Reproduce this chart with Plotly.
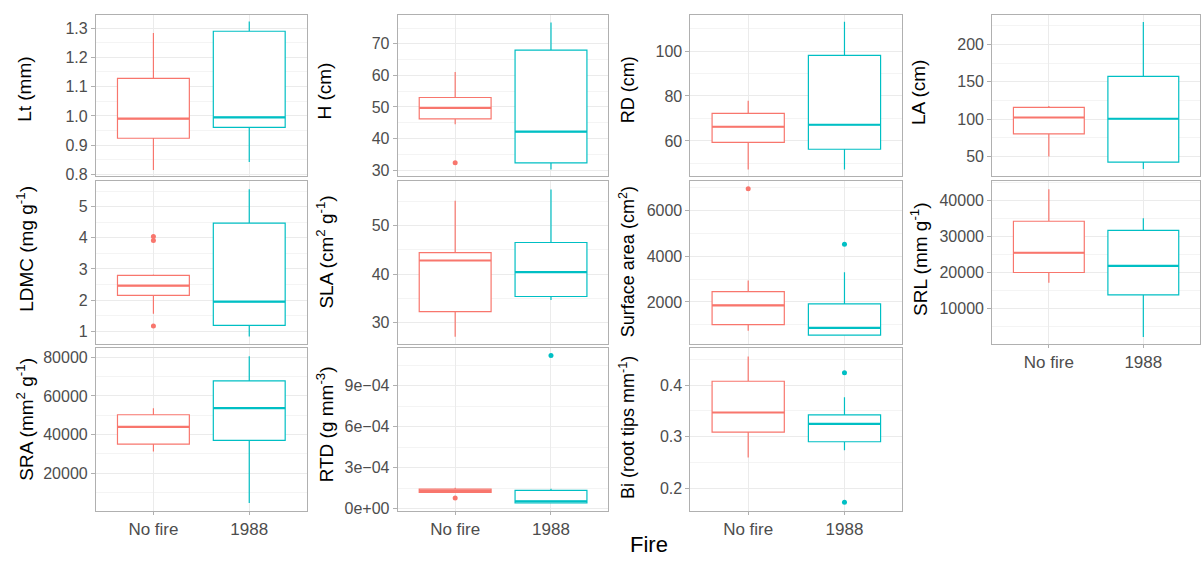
import plotly.graph_objects as go

# ---------------- data ----------------
groups = ["No fire", "1988"]
colors = ["#F8766D", "#00BFC4"]

panel_titles = [
    "Lt (mm)", "H (cm)", "RD (cm)", "LA (cm)",
    "LDMC (mg g<sup>-1</sup>)", "SLA (cm<sup>2</sup> g<sup>-1</sup>)",
    "Surface area (cm<sup>2</sup>)", "SRL (mm g<sup>-1</sup>)",
    "SRA (mm<sup>2</sup> g<sup>-1</sup>)", "RTD (g mm<sup>-3</sup>)",
    "Bi (root tips mm<sup>-1</sup>)",
]

# per panel: [No fire, 1988]
lowerfence = [
    [0.816, 0.843], [44.5, 30.2], [47.3, 47.3], [50.0, 33.0],
    [1.56, 0.83], [27.1, 34.7], [732, 515], [17060, 1950],
    [31224, 4667], [1.18e-4, 4.1e-5], [0.2598, 0.2736],
]
q1 = [
    [0.924, 0.961], [46.2, 32.3], [59.4, 56.3], [80.2, 42.2],
    [2.15, 1.19], [32.3, 35.4], [1004, 545], [19890, 13681],
    [35102, 36990], [1.18e-4, 4.1e-5], [0.3088, 0.2902],
]
median = [
    [0.991, 0.995], [49.7, 42.2], [66.3, 67.2], [102.1, 100.4],
    [2.46, 1.95], [42.8, 40.4], [1844, 861], [25385, 21731],
    [43980, 53673], [1.30e-4, 5.3e-5], [0.347, 0.3247],
]
q3 = [
    [1.128, 1.289], [53.0, 68.0], [72.3, 98.1], [115.7, 157.1],
    [2.79, 4.47], [44.4, 46.5], [2450, 1913], [34148, 31593],
    [50255, 67755], [1.43e-4, 1.33e-4], [0.4077, 0.3425],
]
upperfence = [
    [1.283, 1.322], [61.1, 76.8], [77.9, 113.0], [117.6, 229.9],
    [2.82, 5.56], [55.1, 57.4], [2939, 3299], [43022, 34972],
    [53673, 80510], [1.52e-4, 1.45e-4], [0.4556, 0.3764],
]
outliers = [
    [[], []], [[32.3], []], [[], []], [[], []],
    [[4.04, 3.91, 1.17], []], [[], []], [[6965], [4532]], [[], []],
    [[], []], [[7.8e-5], [1.123e-3]], [[], [0.4243, 0.1726]],
]

# ---------------- layout geometry ----------------
W, H = 1201, 562
col_px = [(96, 307), (398, 609), (691, 903), (993, 1201)]
row_px = [(15, 178), (183, 348), (352, 517)]
title_x_px = [25, 325, 628, 920]
title_y_px = [[90, 92, 91, 94], [252, 255, 265, 262], [424, 430, 433]]
title_size = [19, 19, 18, 19]

y_ranges = [
    [0.796, 1.345], [28.2, 79.2], [44.5, 116.1], [24, 239.7],
    [0.6, 5.83], [25.7, 59.2], [169, 7312], [110, 45412],
    [765, 84949], [-1.45e-5, 1.18e-3], [0.1565, 0.473],
]
y_dticks = [0.1, 10, 20, 50, 1, 10, 2000, 10000, 20000, 3e-4, 0.1]
y_tick0 = [0, 0, 0, 0, 0, 0, 0, 0, 0, 0, 0]
y_formats = [".1f", "d", "d", "d", "d", "d", "d", "d", "d", None, ".1f"]
rtd_tickvals = [0, 3e-4, 6e-4, 9e-4]
rtd_ticktext = ["0e+00", "3e\u221204", "6e\u221204", "9e\u221204"]

BOX_WIDTH = 0.75
FONT = "Liberation Sans, Arial, Helvetica, sans-serif"
TICK_COLOR = "#4D4D4D"
GRID = "#EBEBEB"
GRID_MINOR = "#F4F4F4"
BORDER = "#B0B0B0"

panels = []  # (row, col)
for r in range(3):
    for c in range(4):
        if r == 2 and c == 3:
            continue
        panels.append((r, c))

fig = go.Figure()
layout = dict(
    width=W, height=H, margin=dict(l=0, r=0, t=0, b=0),
    paper_bgcolor="white", plot_bgcolor="white", showlegend=False,
    font=dict(family=FONT, color=TICK_COLOR),
)
annotations = []
xs = list(range(len(groups)))

for i, (r, c) in enumerate(panels):
    n = i + 1
    xa = "x" if n == 1 else f"x{n}"
    ya = "y" if n == 1 else f"y{n}"
    show_x_labels = (r == 2) or (r == 1 and c == 3)

    for g in range(len(groups)):
        fig.add_trace(go.Box(
            x=[xs[g]], q1=[q1[i][g]], median=[median[i][g]], q3=[q3[i][g]],
            lowerfence=[lowerfence[i][g]], upperfence=[upperfence[i][g]],
            width=BOX_WIDTH, whiskerwidth=0, fillcolor="white",
            line=dict(color=colors[g], width=1.2), boxpoints=False,
            xaxis=xa, yaxis=ya, hoverinfo="skip",
        ))
        # thicker median line (ggplot style)
        fig.add_trace(go.Scatter(
            x=[xs[g] - BOX_WIDTH / 2, xs[g] + BOX_WIDTH / 2],
            y=[median[i][g], median[i][g]], mode="lines",
            line=dict(color=colors[g], width=2.2),
            xaxis=xa, yaxis=ya, hoverinfo="skip",
        ))
        if outliers[i][g]:
            fig.add_trace(go.Scatter(
                x=[xs[g]] * len(outliers[i][g]), y=outliers[i][g],
                mode="markers", marker=dict(color=colors[g], size=5),
                xaxis=xa, yaxis=ya, hoverinfo="skip",
            ))

    x0, x1 = col_px[c]
    y0, y1 = row_px[r]
    xkey = "xaxis" if n == 1 else f"xaxis{n}"
    ykey = "yaxis" if n == 1 else f"yaxis{n}"
    layout[xkey] = dict(
        domain=[x0 / W, min(x1 / W, 1.0)], anchor=ya, range=[-0.6, 1.6],
        tickmode="array", tickvals=xs, ticktext=groups,
        showticklabels=show_x_labels, ticks="outside" if show_x_labels else "",
        ticklen=3, tickcolor=BORDER,
        tickfont=dict(size=17, color=TICK_COLOR, family=FONT),
        showgrid=True, gridcolor=GRID, gridwidth=1, zeroline=False,
        showline=True, mirror=True, linecolor=BORDER, linewidth=1,
        fixedrange=True,
    )
    yax = dict(
        domain=[1 - y1 / H, 1 - y0 / H], anchor=xa, range=y_ranges[i],
        ticks="outside", ticklen=4, tickcolor=BORDER,
        tickfont=dict(size=16, color=TICK_COLOR, family=FONT),
        showgrid=True, gridcolor=GRID, gridwidth=1, zeroline=False,
        showline=True, mirror=True, linecolor=BORDER, linewidth=1,
        minor=dict(showgrid=True, gridcolor=GRID_MINOR, gridwidth=1,
                   dtick=y_dticks[i] / 2, tick0=y_tick0[i]),
        fixedrange=True,
    )
    if y_formats[i] is None:
        yax.update(tickmode="array", tickvals=rtd_tickvals, ticktext=rtd_ticktext)
    else:
        yax.update(tickmode="linear", tick0=y_tick0[i], dtick=y_dticks[i],
                   tickformat=y_formats[i])
    layout[ykey] = yax

    annotations.append(dict(
        text=panel_titles[i], xref="paper", yref="paper",
        x=title_x_px[c] / W, y=1 - title_y_px[r][c] / H,
        xanchor="center", yanchor="middle", textangle=-90, showarrow=False,
        font=dict(size=title_size[c], color="black", family=FONT),
    ))

annotations.append(dict(
    text="Fire", xref="paper", yref="paper", x=650 / W, y=1 - 551 / H,
    xanchor="center", yanchor="middle", showarrow=False,
    font=dict(size=22, color="black", family=FONT),
))
layout["annotations"] = annotations
fig.update_layout(**layout)
fig.write_html("out.html")
